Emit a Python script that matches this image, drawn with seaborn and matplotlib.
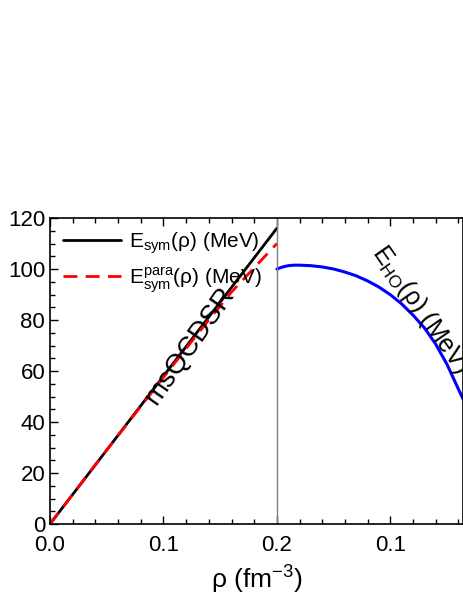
import matplotlib
matplotlib.use("Agg")
import matplotlib.pyplot as plt
import seaborn as sns
import numpy as np
from matplotlib.ticker import MultipleLocator, FixedLocator, FixedFormatter

sns.set_style("ticks")
plt.rcParams['font.family'] = ['Liberation Sans', 'DejaVu Sans']
plt.rcParams['mathtext.fontset'] = 'custom'
plt.rcParams['mathtext.rm'] = 'Liberation Sans'
for k in ['text.color', 'axes.labelcolor', 'xtick.color', 'ytick.color', 'axes.edgecolor']:
    plt.rcParams[k] = 'black'

rho_sym = [0.0, 0.05, 0.1, 0.15, 0.2]
esym = [0.0, 29.0, 58.0, 87.0, 116.0]
rho_para = [0.0, 0.05, 0.1, 0.13, 0.16, 0.2]
epara = [0.0, 29.0, 57.5, 74.5, 91.0, 110.0]
rho_ho = [0.2, 0.205, 0.21, 0.215, 0.22, 0.23, 0.24, 0.25, 0.26, 0.27, 0.28, 0.29,
          0.30, 0.31, 0.32, 0.33, 0.34, 0.35, 0.364]
eho = [100.0, 100.8, 101.3, 101.5, 101.5, 101.3, 100.8, 100.0, 98.8, 97.3, 95.3, 92.9,
       89.9, 86.3, 81.9, 76.9, 70.5, 62.5, 49.0]
xtick_pos = [0.0, 0.1, 0.2, 0.3]
xtick_labels = ["0.0", "0.1", "0.2", "0.1"]

fig = plt.figure(figsize=(4.63, 5.99), dpi=100)
ax = fig.add_axes([50/463, 75/599, 413/463, 306/599])
sns.lineplot(x=rho_sym, y=esym, ax=ax, color='black', lw=2, label='E$_{\\mathrm{sym}}$(ρ) (MeV)')
sns.lineplot(x=rho_para, y=epara, ax=ax, color='red', lw=2, linestyle=(0, (5, 3)),
             label='E$_{\\mathrm{sym}}^{\\mathrm{para}}$(ρ) (MeV)')
sns.lineplot(x=rho_ho, y=eho, ax=ax, color='blue', lw=2.2, legend=False)
ax.axvline(0.2, color='gray', lw=1)
ax.set_xlim(0, 0.364)
ax.set_ylim(0, 120)
ax.xaxis.set_major_locator(FixedLocator(xtick_pos))
ax.xaxis.set_major_formatter(FixedFormatter(xtick_labels))
ax.xaxis.set_minor_locator(MultipleLocator(0.02))
ax.yaxis.set_major_locator(MultipleLocator(20))
ax.yaxis.set_minor_locator(MultipleLocator(5))
ax.tick_params(which='both', direction='in', top=True, right=False, labelsize=16, width=1)
ax.tick_params(which='major', length=6)
ax.tick_params(which='minor', length=3.5)
ax.tick_params(axis='x', pad=8)
for s in ax.spines.values():
    s.set_linewidth(1.2)
ax.set_xlabel('ρ (fm$^{-3}$)', fontsize=19)
ax.set_ylabel('')
ax.text(0.123, 70, 'msQCDSR', rotation=55, fontsize=20, ha='center', va='center')
ax.text(0.327, 84, 'E$_{\\mathrm{HO}}$(ρ) (MeV)', rotation=-55, fontsize=18, ha='center', va='center')
ax.legend(loc='upper left', frameon=False, fontsize=15, handlelength=2.8, borderaxespad=0.2,
          labelspacing=0.4, handletextpad=0.4)
fig.savefig('out.png', dpi=100)
